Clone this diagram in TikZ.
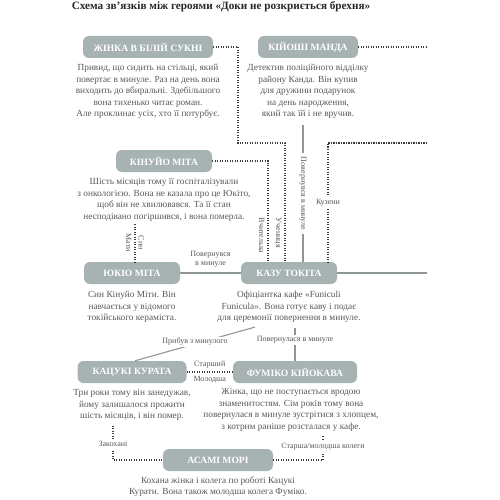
\documentclass[tikz,border=0pt]{standalone}
\usepackage{fontspec}
\setmainfont{Liberation Serif}
\usepackage{tikz}
\definecolor{cinzaCaixa}{HTML}{A7B2B2}
\definecolor{cinzaTexto}{HTML}{555959}
\definecolor{cinzaLinha}{HTML}{8E9696}
\definecolor{pretoPonto}{HTML}{3A3A3A}
\newcommand{\corCaixa}{cinzaCaixa}
\newcommand{\corTexto}{cinzaTexto}
\newcommand{\corLinha}{cinzaLinha}
\newcommand{\corPonto}{pretoPonto}
\tikzset{
  heroi/.style={fill=\corCaixa, rounded corners=6pt, text=white, minimum height=22pt,
    inner sep=0pt, font=\fontsize{9.6}{10}\selectfont\bfseries},
  descricao/.style={anchor=north, align=center, inner sep=0pt, text=\corTexto,
    font=\fontsize{9.3}{11.5}\selectfont},
  rotulo/.style={text=\corTexto, inner sep=1.5pt, font=\fontsize{8}{8.5}\selectfont},
  pontilhado/.style={draw=\corPonto, line width=1.2pt, dash pattern=on 1.2pt off 1.3pt},
  continua/.style={draw=\corLinha, line width=1.1pt}
}
\begin{document}
\begin{tikzpicture}[x=1pt, y=-1pt]
    \useasboundingbox (0,0) rectangle (500,500);

    \node[font=\fontsize{11.2}{12}\selectfont\bfseries, text=black!85] (titulo) at (221,7)
      {Схема зв’язків між героями «Доки не розкриється брехня»};

      % heroi 0
    \node[heroi, minimum width=130pt] (zhinka) at (148,47) {ЖІНКА В БІЛІЙ СУКНІ};
    \node[descricao] (zhinkaTxt) at ([yshift=-6pt]zhinka.south)
      {Привид, що сидить на стільці, який\\повертає в минуле. Раз на день вона\\виходить до вбиральні. Здебільшого\\вона тихенько читає роман.\\Але проклинає усіх, хто її потурбує.};

      % heroi 1
    \node[heroi, minimum width=100pt] (kiyoshi) at (308,47) {КІЙОШІ МАНДА};
    \node[descricao] (kiyoshiTxt) at ([yshift=-6pt]kiyoshi.south)
      {Детектив поліційного відділку\\району Канда. Він купив\\для дружини подарунок\\на день народження,\\який так їй і не вручив.};

      % heroi 2
    \node[heroi, minimum width=96pt] (kinuyo) at (164,161) {КІНУЙО МІТА};
    \node[descricao] (kinuyoTxt) at ([yshift=-6pt]kinuyo.south)
      {Шість місяців тому її госпіталізували\\з онкологією. Вона не казала про це Юкіто,\\щоб він не хвилювався. Та її стан\\несподівано погіршився, і вона померла.};

      % heroi 3
    \node[heroi, minimum width=96pt] (yukio) at (132,273) {ЮКІО МІТА};
    \node[descricao] (yukioTxt) at ([yshift=-7pt]yukio.south)
      {Син Кінуйо Міти. Він\\навчається у відомого\\токійського кераміста.};

      % heroi 4
    \node[heroi, minimum width=96pt] (kazu) at (289,273) {КАЗУ ТОКІТА};
    \node[descricao] (kazuTxt) at ([yshift=-7pt]kazu.south)
      {Офіціантка кафе «Funiculi\\Funicula». Вона готує каву і подає\\для церемонії повернення в минуле.};

      % heroi 5
    \node[heroi, minimum width=109pt] (katsuki) at (132,372) {КАЦУКІ КУРАТА};
    \node[descricao] (katsukiTxt) at ([yshift=-6pt]katsuki.south)
      {Три роки тому він занедужав,\\йому залишалося прожити\\шість місяців, і він помер.};

      % heroi 6
    \node[heroi, minimum width=124pt] (fumiko) at (295,372) {ФУМІКО КІЙОКАВА};
    \node[descricao] (fumikoTxt) at ([xshift=-4pt,yshift=-5pt]fumiko.south)
      {Жінка, що не поступається вродою\\знаменитостям. Сім років тому вона\\повернулася в минуле зустрітися з хлопцем,\\з котрим раніше розсталася у кафе.};

      % heroi 7
    \node[heroi, minimum width=110pt] (asami) at (218,460) {АСАМІ МОРІ};
    \node[descricao] (asamiTxt) at ([yshift=-5pt]asami.south)
      {Кохана жінка і колега по роботі Кацукі\\Курати. Вона також молодша колега Фуміко.};

    \coordinate (dobraZhinka) at (238,143);
    \coordinate (fimKiyoshi) at (427,47);
    \coordinate (fimPrimos) at (427,143);
    \coordinate (fimKazu) at (427,273);
    \coordinate (baixoKinuyo) at (135,224);

      % ligacoes pontilhadas
    \draw[pontilhado] (zhinka.east) -| (dobraZhinka) -| node[pos=0.878, rotulo, rotate=-90, anchor=north, inner sep=3pt] {Учениця} ([xshift=-4pt]kazu.north);
    \draw[pontilhado] (kiyoshi.east) -- (fimKiyoshi);
    \draw[pontilhado] (fimPrimos) -| node[pos=0.75, rotulo, fill=white, inner sep=3pt] {Кузени} ([xshift=39pt]kazu.north);
    \draw[pontilhado] (kinuyo.east) -| node[pos=0.87, rotulo, rotate=-90, anchor=north, inner sep=3pt] {Вчителька} ([xshift=-21pt]kazu.north);
    \draw[pontilhado] (baixoKinuyo) -- node[rotulo, rotate=-90, anchor=north, inner sep=3pt] {Мати}
      node[rotulo, rotate=-90, anchor=south, inner sep=3pt] {Син} ([xshift=3pt]yukio.north);
    \draw[pontilhado] (katsuki.east) -- node[rotulo, above=2pt] {Старший} node[rotulo, below=2pt] {Молодша} (fumiko.west);
    \draw[pontilhado] ([xshift=-19pt,yshift=-5pt]katsukiTxt.south) |- node[pos=0.27, rotulo, fill=white, inner sep=3pt] {Закохані} (asami.west);
    \draw[pontilhado] ([xshift=32pt,yshift=-5pt]fumikoTxt.south) |- node[pos=0.22, rotulo, fill=white, inner sep=3pt] {Старша/молодша колеги} (asami.east);

      % ligacoes continuas
    \draw[continua] ([xshift=-5pt,yshift=-6pt]kiyoshiTxt.south) -- node[rotulo, rotate=-90, fill=white, inner sep=4pt] {Повернувся в минуле} ([xshift=-5pt]kiyoshi.south |- kazu.north);
    \draw[continua] (yukio.east) -- node[rotulo, above=4pt, align=center] {Повернувся\\в минуле} (kazu.west);
    \draw[continua] (kazu.east) -- (fimKazu);
    \draw[continua] ([xshift=-34pt,yshift=-4pt]kazuTxt.south) -- node[rotulo, fill=white, yshift=2pt] {Прибув з минулого} ([xshift=3pt]katsuki.north);
    \draw[continua] ([xshift=6pt,yshift=-5pt]kazuTxt.south) -- node[pos=0.35, rotulo, fill=white] {Повернулася в минуле} (fumiko.north);
\end{tikzpicture}
\end{document}
